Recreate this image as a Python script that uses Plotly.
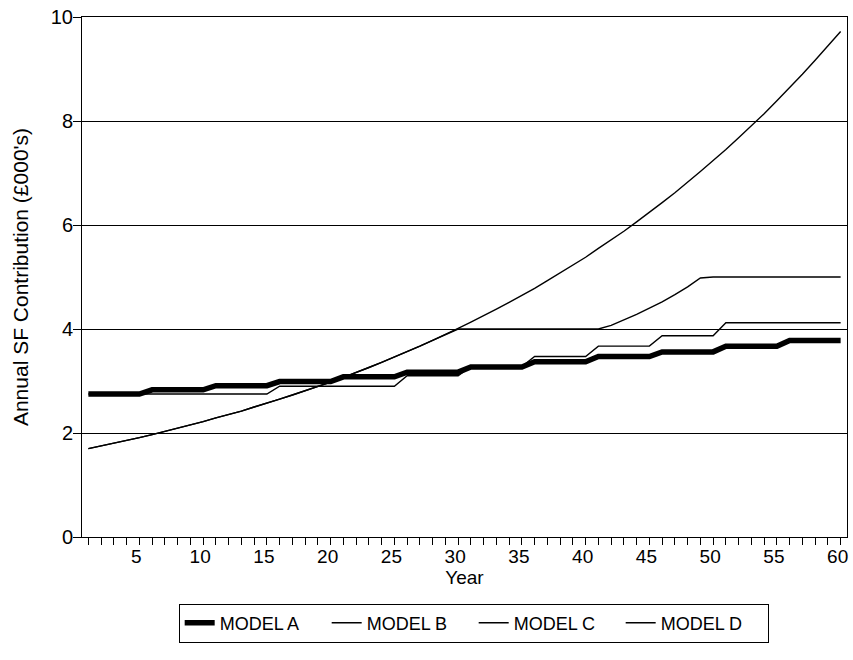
import plotly.graph_objects as go

years = list(range(1, 61))

model_a = [2.75, 2.75, 2.75, 2.75, 2.75, 2.83, 2.83, 2.83, 2.83, 2.83,
           2.91, 2.91, 2.91, 2.91, 2.91, 2.99, 2.99, 2.99, 2.99, 2.99,
           3.08, 3.08, 3.08, 3.08, 3.08, 3.17, 3.17, 3.17, 3.17, 3.17,
           3.27, 3.27, 3.27, 3.27, 3.27, 3.37, 3.37, 3.37, 3.37, 3.37,
           3.47, 3.47, 3.47, 3.47, 3.47, 3.56, 3.56, 3.56, 3.56, 3.56,
           3.67, 3.67, 3.67, 3.67, 3.67, 3.78, 3.78, 3.78, 3.78, 3.78]

model_b = [2.75, 2.75, 2.75, 2.75, 2.75, 2.75, 2.75, 2.75, 2.75, 2.75,
           2.75, 2.75, 2.75, 2.75, 2.75, 2.90, 2.90, 2.90, 2.90, 2.90,
           2.90, 2.90, 2.90, 2.90, 2.90, 3.10, 3.10, 3.10, 3.10, 3.10,
           3.28, 3.28, 3.28, 3.28, 3.28, 3.47, 3.47, 3.47, 3.47, 3.47,
           3.67, 3.67, 3.67, 3.67, 3.67, 3.87, 3.87, 3.87, 3.87, 3.87,
           4.12, 4.12, 4.12, 4.12, 4.12, 4.12, 4.12, 4.12, 4.12, 4.12]

model_c = [1.70, 1.75, 1.80, 1.86, 1.91, 1.97, 2.03, 2.09, 2.15, 2.22,
           2.29, 2.35, 2.42, 2.50, 2.57, 2.65, 2.73, 2.81, 2.89, 2.98,
           3.07, 3.16, 3.26, 3.36, 3.46, 3.56, 3.67, 3.78, 3.89, 4.00,
           4.00, 4.00, 4.00, 4.00, 4.00, 4.00, 4.00, 4.00, 4.00, 4.00,
           4.00, 4.07, 4.17, 4.28, 4.40, 4.52, 4.66, 4.81, 4.98, 5.00,
           5.00, 5.00, 5.00, 5.00, 5.00, 5.00, 5.00, 5.00, 5.00, 5.00]

model_d = [1.70, 1.75, 1.80, 1.86, 1.91, 1.97, 2.03, 2.09, 2.15, 2.22,
           2.29, 2.35, 2.42, 2.50, 2.57, 2.65, 2.73, 2.81, 2.89, 2.98,
           3.07, 3.16, 3.26, 3.36, 3.46, 3.56, 3.67, 3.78, 3.89, 4.01,
           4.13, 4.25, 4.38, 4.51, 4.64, 4.78, 4.93, 5.08, 5.23, 5.38,
           5.55, 5.71, 5.88, 6.06, 6.24, 6.43, 6.62, 6.82, 7.03, 7.24,
           7.45, 7.68, 7.91, 8.14, 8.39, 8.64, 8.90, 9.17, 9.44, 9.72]

x_tick_vals = [5, 10, 15, 20, 25, 30, 35, 40, 45, 50, 55, 60]
y_tick_vals = [0, 2, 4, 6, 8, 10]

FONT = "Liberation Sans, Arial, sans-serif"

fig = go.Figure()
fig.add_trace(go.Scatter(x=years, y=model_a, mode="lines", name="MODEL A",
                         line=dict(color="black", width=5.5)))
fig.add_trace(go.Scatter(x=years, y=model_b, mode="lines", name="MODEL B",
                         line=dict(color="black", width=1.4)))
fig.add_trace(go.Scatter(x=years, y=model_c, mode="lines", name="MODEL C",
                         line=dict(color="black", width=1.4)))
fig.add_trace(go.Scatter(x=years, y=model_d, mode="lines", name="MODEL D",
                         line=dict(color="black", width=1.4)))

fig.update_layout(
    width=853, height=660,
    margin=dict(l=82, r=6, t=17, b=123, autoexpand=False),
    paper_bgcolor="white", plot_bgcolor="white",
    font=dict(family=FONT, color="black", size=19),
    showlegend=True,
    legend=dict(orientation="h", x=0.512, xanchor="center", y=-0.128, yanchor="top",
                bordercolor="black", borderwidth=1, bgcolor="white",
                font=dict(size=18, family=FONT, color="black"),
                itemwidth=30, tracegroupgap=0, entrywidth=102),
    xaxis=dict(range=[0.5, 60.5], tickmode="array", tickvals=x_tick_vals,
               ticks="outside", ticklen=7, tickwidth=1, tickcolor="black",
               minor=dict(dtick=1, tick0=0, ticks="outside", ticklen=7,
                          tickcolor="black", tickwidth=1, showgrid=False),
               showgrid=False, zeroline=False,
               showline=True, linecolor="black", linewidth=1, mirror=True,
               tickfont=dict(size=19, family=FONT),
               ticklabelshift=-3, ticklabelstandoff=-5,
               title=dict(text="Year", font=dict(size=19, family=FONT), standoff=0)),
    yaxis=dict(range=[0, 10], tickmode="array", tickvals=y_tick_vals,
               ticks="outside", ticklen=8, tickwidth=1, tickcolor="black",
               showgrid=True, gridcolor="black", gridwidth=1, zeroline=False,
               showline=True, linecolor="black", linewidth=1, mirror=True,
               tickfont=dict(size=20, family=FONT),
               ticklabelstandoff=-4,
               title=dict(text="Annual SF Contribution (£000's)",
                          font=dict(size=21, family=FONT), standoff=16)),
)

fig.write_html("out.html", config={"displayModeBar": False},
               post_script="document.body.style.margin='0';document.body.style.padding='0';")
